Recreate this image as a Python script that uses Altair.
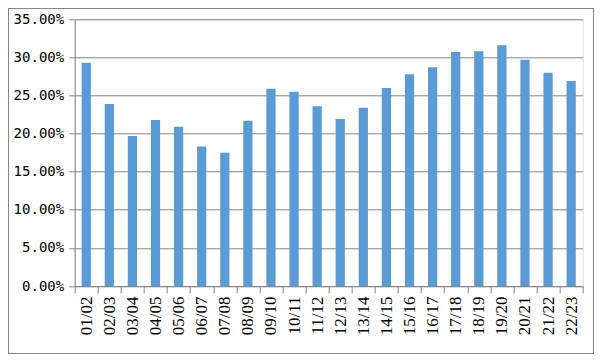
import altair as alt
import pandas as pd

seasons = ["01/02", "02/03", "03/04", "04/05", "05/06", "06/07", "07/08", "08/09",
           "09/10", "10/11", "11/12", "12/13", "13/14", "14/15", "15/16", "16/17",
           "17/18", "18/19", "19/20", "20/21", "21/22", "22/23"]
values = [0.293, 0.239, 0.197, 0.218, 0.209, 0.183, 0.175, 0.217,
          0.259, 0.255, 0.236, 0.219, 0.234, 0.260, 0.278, 0.287,
          0.307, 0.308, 0.316, 0.297, 0.280, 0.269]
y_ticks = [0, 0.05, 0.10, 0.15, 0.20, 0.25, 0.30, 0.35]

df = pd.DataFrame({"season": seasons, "value": values})

GRID = "#878787"
PLOT_W = 508
PLOT_H = 266.7
PAD_L, PAD_T = 66.7, 11.3
TOTAL_W, TOTAL_H = 586, 346

bars = alt.Chart(df).mark_bar(
    color="#5B9BD5", width=alt.RelativeBandSize(0.4)
).encode(
    x=alt.X("season:N", sort=seasons,
            scale=alt.Scale(paddingInner=0, paddingOuter=0),
            axis=alt.Axis(title=None, labelAngle=-90, tickBand="extent",
                          domainColor=GRID, tickColor=GRID, tickSize=7,
                          labelPadding=3, labelFont="Liberation Serif",
                          labelFontSize=17, labelColor="#000000", grid=False)),
    y=alt.Y("value:Q",
            scale=alt.Scale(domain=[0, 0.35], nice=False),
            axis=alt.Axis(title=None, format=".2%", values=y_ticks,
                          domainColor=GRID, tickColor=GRID, tickSize=6,
                          gridColor=GRID, gridOpacity=1, labelPadding=5,
                          labelFont="DejaVu Sans Mono", labelFontSize=14,
                          labelColor="#000000")),
)

border = alt.Chart(df).mark_rect(
    fill=None, stroke=GRID, strokeWidth=1
).encode(
    x=alt.value(-PAD_L + 0.5), x2=alt.value(TOTAL_W - PAD_L - 0.5),
    y=alt.value(-PAD_T + 0.5), y2=alt.value(TOTAL_H - PAD_T - 0.5),
)

chart = alt.layer(border, bars).properties(
    width=PLOT_W, height=PLOT_H,
    autosize=alt.AutoSizeParams(type="none"),
    padding={"left": PAD_L, "top": PAD_T,
             "right": TOTAL_W - PAD_L - PLOT_W,
             "bottom": TOTAL_H - PAD_T - PLOT_H},
).configure_view(stroke=None).configure(background="white")

chart.save("out.html", embed_options={"renderer": "svg", "actions": False})
